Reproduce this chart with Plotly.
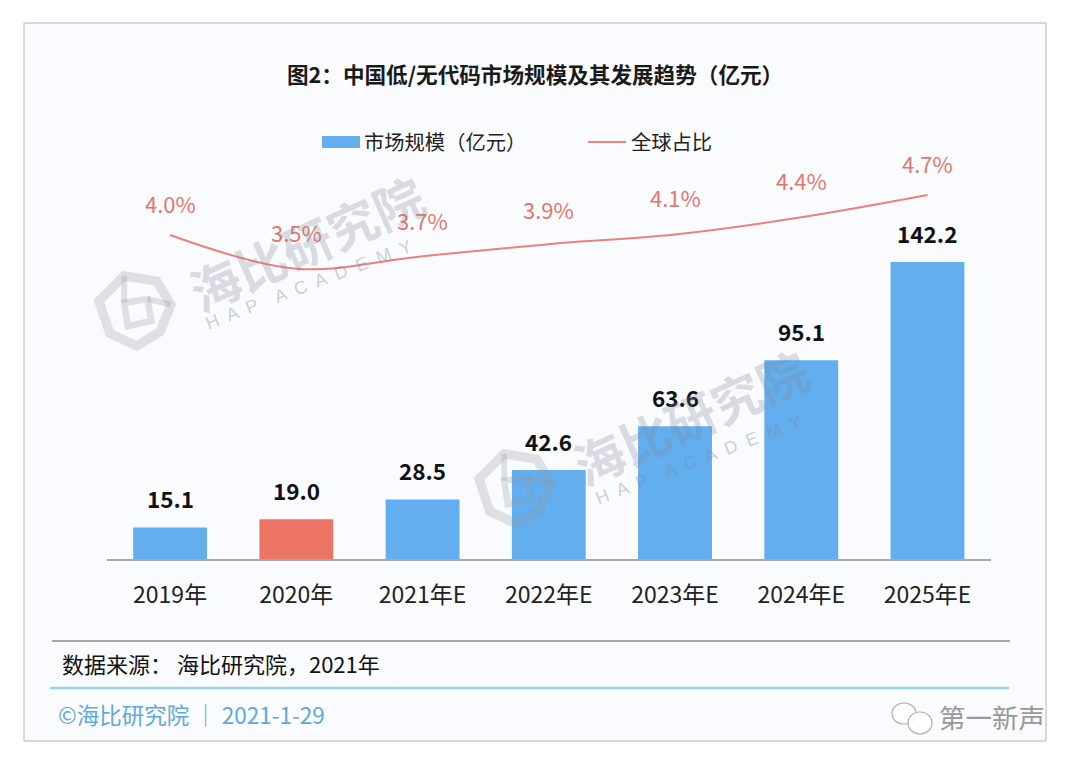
import plotly.graph_objects as go

# the page body keeps an 8px margin, so the figure is smaller and the pixel helpers shift by it
W, H = 1064, 751
PAGE_OFFSET = 8
FONT = "Noto Sans CJK SC"

years = ["2019年", "2020年", "2021年E", "2022年E", "2023年E", "2024年E", "2025年E"]
market_size = [15.1, 19.0, 28.5, 42.6, 63.6, 95.1, 142.2]
bar_colors = ["#62aeef", "#ec7566", "#62aeef", "#62aeef", "#62aeef", "#62aeef", "#62aeef"]
share_labels = [4.0, 3.5, 3.7, 3.9, 4.1, 4.4, 4.7]
# the drawn curve sits a bit off its labels in the original, so read it separately
share_curve = [4.0, 3.41, 3.63, 3.84, 4.01, 4.31, 4.7]

TITLE = "图2：中国低/无代码市场规模及其发展趋势（亿元）"
SOURCE = "数据来源： 海比研究院，2021年"
FOOTER = "©海比研究院 ｜ 2021-1-29"
WATERMARK = "海比研究院"
WATERMARK_EN = "H  A  P    A  C  A  D  E  M  Y"


def px_x(x):
    return (x - PAGE_OFFSET) / W


def px_y(y):
    return 1 - (y - PAGE_OFFSET) / H


def text(x, y, s, size, color="#222222", anchor="left", bold=False, angle=0, font=FONT):
    if bold:
        s = "<b>" + s + "</b>"
    return dict(x=px_x(x), y=px_y(y), xref="paper", yref="paper", text=s, showarrow=False,
                xanchor=anchor, yanchor="middle", textangle=angle,
                font=dict(family=font, size=size, color=color))


def rect(x0, y0, x1, y1, fill, line=None, layer="below"):
    return dict(type="rect", xref="paper", yref="paper", x0=px_x(x0), x1=px_x(x1), y0=px_y(y0), y1=px_y(y1),
                fillcolor=fill, line=dict(width=1 if line else 0, color=line or fill), layer=layer)


def hline(x0, x1, y, color, width):
    return dict(type="line", xref="paper", yref="paper", x0=px_x(x0), x1=px_x(x1), y0=px_y(y), y1=px_y(y),
                line=dict(color=color, width=width), layer="below")


def bubble(x0, y0, x1, y1):
    return dict(type="circle", xref="paper", yref="paper", x0=px_x(x0), x1=px_x(x1), y0=px_y(y0), y1=px_y(y1),
                line=dict(color="#b0b0b0", width=1.2), fillcolor="rgba(255,255,255,0.85)", layer="above")


def logo(cx, cy, r):
    # watermark cube, points given relative to its centre
    outer = [(-0.3, -0.95), (0.6, -0.8), (1.0, -0.15), (0.7, 0.6), (0.05, 1.0), (-0.7, 0.65), (-1.0, -0.25)]
    inner = [(-0.3, -0.2), (0.35, -0.3), (0.45, 0.3), (-0.2, 0.45)]
    spokes = [(-0.3, -0.2), (-0.3, -0.95), (0.35, -0.3), (1.0, -0.15)]
    shapes = []
    for pts, w, close in ((outer, r * 0.26, " Z"), (inner, r * 0.18, " Z"), (spokes[:2], r * 0.16, ""), (spokes[2:], r * 0.16, "")):
        d = "M" + " L".join("{:.4f},{:.4f}".format(px_x(cx + a * r), px_y(cy + b * r)) for a, b in pts) + close
        shapes.append(dict(type="path", xref="paper", yref="paper", path=d,
                           line=dict(color="rgba(150,150,160,0.27)", width=w), layer="above"))
    return shapes


fig = go.Figure()
fig.add_trace(go.Bar(x=years, y=market_size, marker=dict(color=bar_colors, line_width=0), width=0.585,
                     name="市场规模（亿元）", hoverinfo="x+y"))
fig.add_trace(go.Scatter(x=years, y=share_curve, yaxis="y2", mode="lines", name="全球占比",
                         line=dict(color="#e8827a", width=2, shape="spline", smoothing=1.0)))

annotations = [
    text(535, 73, TITLE, 21.6, "#1a1a1a", "center", bold=True),
    text(362, 141, "市场规模（亿元）", 20.3),
    text(629, 141, "全球占比", 20.3),
    text(60, 663, SOURCE, 22, "#111111"),
    text(56, 714, FOOTER, 22.5, "#5fa9d9"),
    text(937, 716, "第一新声", 26.5, "#999999"),
]
for year, value in zip(years, market_size):
    annotations.append(dict(x=year, y=value, xref="x", yref="y", text="<b>{:.1f}</b>".format(value), showarrow=False,
                            yshift=29, font=dict(family=FONT, size=22.5, color="#111111")))
for year, value in zip(years, share_labels):
    annotations.append(dict(x=year, y=value, xref="x", yref="y2", text="{:.1f}%".format(value), showarrow=False,
                            yshift=32, font=dict(family=FONT, size=22, color="#e2766c")))
for cx, cy, ex, ey in ((306, 242, 308, 285), (690, 416, 698, 460)):
    annotations.append(text(cx, cy, WATERMARK, 50, "rgba(130,135,150,0.28)", "center", bold=True, angle=-24))
    annotations.append(text(ex, ey, WATERMARK_EN, 18, "rgba(130,135,150,0.4)", "center", angle=-21, font="Liberation Sans"))

shapes = [
    rect(24, 23, 1046, 741, "#fafbfe", "#b5b5b8"),
    hline(52, 1010, 641, "#8c8c8c", 1.5),
    hline(50, 1009, 688, "#8fd6ee", 2.5),
    rect(322, 136, 360, 148, "#62aeef", layer="above"),
    hline(588, 626, 142, "#e8827a", 2),
    bubble(892, 703, 916, 724),
    bubble(908, 712, 932, 734),
]
shapes += logo(135, 310, 36) + logo(515, 488, 36)

fig.update_layout(
    width=W, height=H,
    margin=dict(l=0, r=0, t=0, b=0),
    paper_bgcolor="#ffffff",
    plot_bgcolor="rgba(0,0,0,0)",
    showlegend=False,
    font=dict(family=FONT),
    xaxis=dict(domain=[px_x(107), px_x(990.6)], type="category", showgrid=False, showline=True, linecolor="#a8a8a8",
               linewidth=1.5, ticks="", ticklabelstandoff=15, tickfont=dict(family=FONT, size=23, color="#222222")),
    yaxis=dict(domain=[px_y(559), px_y(130)], range=[0, 205.4], visible=False),
    yaxis2=dict(overlaying="y", range=[-1.67, 5.8375], visible=False),
    annotations=annotations,
    shapes=shapes,
)

fig.write_html("out.html")
